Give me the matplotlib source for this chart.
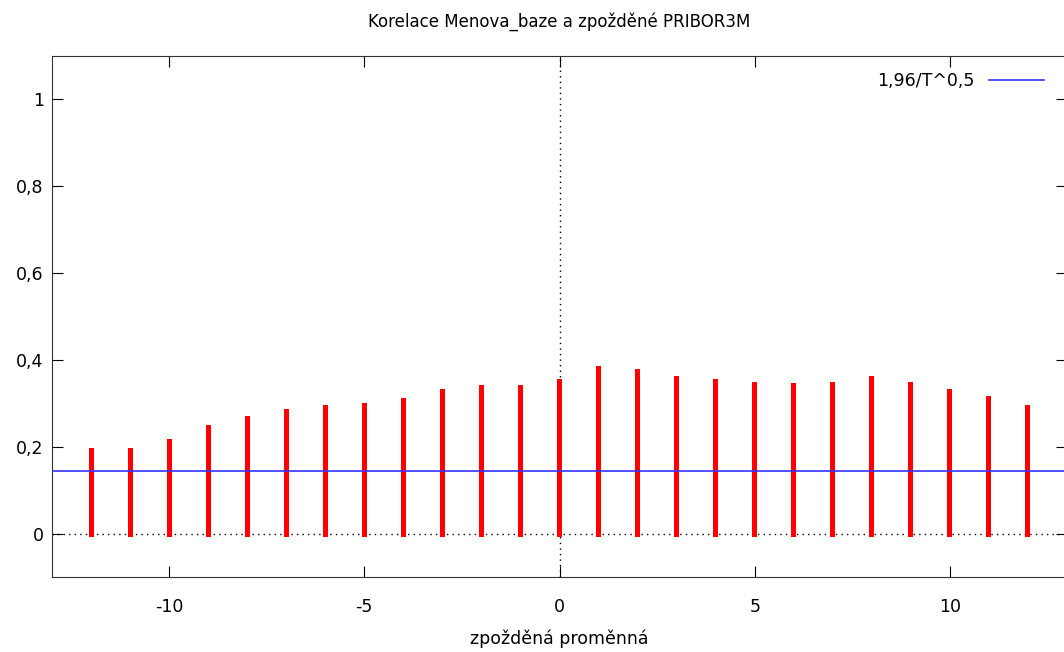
import matplotlib.pyplot as plt
from matplotlib.ticker import FuncFormatter

lags = list(range(-12, 13))
corr = [0.196, 0.196, 0.217, 0.249, 0.270, 0.288, 0.297, 0.300, 0.313, 0.332,
        0.343, 0.343, 0.357, 0.387, 0.380, 0.362, 0.357, 0.348, 0.346, 0.348,
        0.362, 0.348, 0.332, 0.316, 0.297]
crit = 0.145
crit_label = "1,96/T^0,5"

plt.rcParams['font.family'] = ['DejaVu Sans']
plt.rcParams['axes.unicode_minus'] = False

fig = plt.figure(figsize=(10.64, 6.52), dpi=100)
ax = fig.add_axes([52 / 1064, 1 - 577 / 652, (1067 - 52) / 1064, (577 - 56) / 652])

ax.bar(lags, [c + 0.007 for c in corr], bottom=-0.007, width=0.13, color='#ff0000', zorder=3)
ax.axhline(0, color='black', linestyle=(0, (1, 3)), linewidth=1, zorder=2)
ax.axvline(0, color='black', linestyle=(0, (1, 3)), linewidth=1, zorder=2)
ax.axhline(crit, color='#3333ff', linewidth=1.2, label=crit_label, zorder=4)

ax.set_xlim(-13, 13)
ax.set_ylim(-0.1, 1.1)
ax.set_xticks([-10, -5, 0, 5, 10])
ax.set_yticks([0, 0.2, 0.4, 0.6, 0.8, 1.0])
ax.yaxis.set_major_formatter(FuncFormatter(lambda v, p: ('%g' % round(v, 2)).replace('.', ',')))
ax.tick_params(direction='in', length=8, top=True, right=True, labelsize=12.5, pad=15)
ax.tick_params(axis='y', pad=6)
for s in ax.spines.values():
    s.set_color('#333333')

ax.set_title("Korelace Menova_baze a zpožděné PRIBOR3M", fontsize=12, pad=21)
ax.set_xlabel("zpožděná proměnná", fontsize=12.5, labelpad=10)

ax.legend(loc='upper right', frameon=False, markerfirst=False, fontsize=12.5,
          handlelength=3.2, bbox_to_anchor=(0.993, 1.0))

fig.savefig("out.png", dpi=100)
